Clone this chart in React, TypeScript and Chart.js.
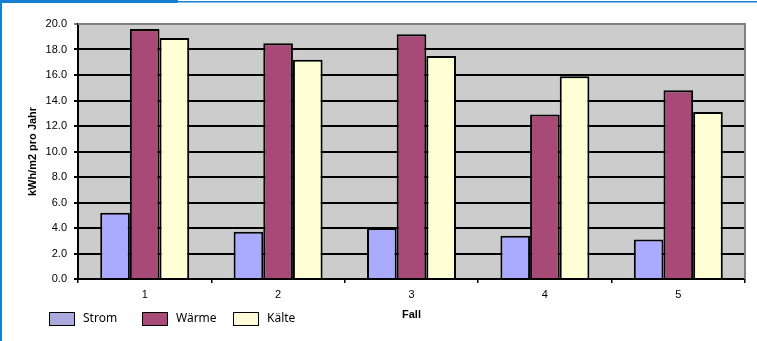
import React, { useEffect, useRef } from "react";
import { Chart, registerables } from "chart.js";

Chart.register(...registerables);

const categories = ["1", "2", "3", "4", "5"];
const strom = [5.2, 3.7, 4.0, 3.4, 3.1];
const waerme = [19.6, 18.5, 19.2, 12.9, 14.8];
const kaelte = [18.9, 17.2, 17.5, 15.9, 13.1];
const seriesNames = ["Strom", "Wärme", "Kälte"];
const seriesColors = ["#aaaaff", "#a84a78", "#ffffd6"];
const legendColors = ["#aaaadd", "#a84a78", "#fffbd8"];

const TICK_FONT = "'Liberation Sans', Arial, sans-serif";

export default function App() {
  const ref = useRef<HTMLCanvasElement | null>(null);

  useEffect(() => {
    document.body.style.margin = "0";
    const canvas = ref.current;
    if (!canvas) return;

    const framePlugin = {
      id: "frame",
      beforeDraw(chart: any) {
        const { ctx, chartArea: a } = chart;
        ctx.save();
        ctx.fillStyle = "#ffffff";
        ctx.fillRect(0, 0, chart.width, chart.height);
        ctx.fillStyle = "#cccccc";
        ctx.fillRect(a.left, a.top, a.right - a.left, a.bottom - a.top);
        ctx.restore();
      },
      afterDraw(chart: any) {
        const { ctx, chartArea: a } = chart;
        ctx.save();
        // gray top/right border of plot
        ctx.strokeStyle = "#808080";
        ctx.lineWidth = 2;
        ctx.beginPath();
        ctx.moveTo(a.left, a.top);
        ctx.lineTo(a.right, a.top);
        ctx.lineTo(a.right, a.bottom);
        ctx.stroke();
        // blue frame
        ctx.fillStyle = "#1580d2";
        ctx.fillRect(0, 0, 178, 3);
        ctx.fillRect(0, 1, chart.width, 1.5);
        ctx.fillRect(0, 0, 2, chart.height);
        // legend
        const xs = [49, 142, 233];
        const y = 312;
        ctx.font = "12px 'Noto Sans', 'Open Sans', sans-serif";
        ctx.textBaseline = "middle";
        ctx.textAlign = "left";
        chart.data.datasets.forEach((ds: any, i: number) => {
          const x = xs[i];
          ctx.fillStyle = legendColors[i];
          ctx.fillRect(x, y, 25, 13);
          ctx.strokeStyle = "#000";
          ctx.lineWidth = 1;
          ctx.strokeRect(x + 0.5, y + 0.5, 25, 13);
          ctx.fillStyle = "#000";
          ctx.fillText(ds.label, x + 34, y + 7);
        });
        ctx.restore();
      },
    };

    const mk = (i: number, data: number[]) => ({
      label: seriesNames[i],
      data,
      backgroundColor: seriesColors[i],
      borderColor: "#000000",
      borderWidth: 2,
      barPercentage: 1,
      categoryPercentage: 0.667,
    });

    const chart = new Chart(canvas, {
      type: "bar",
      data: {
        labels: categories,
        datasets: [mk(0, strom), mk(1, waerme), mk(2, kaelte)],
      },
      options: {
        responsive: false,
        animation: false,
        layout: { padding: { top: 24, right: 12, left: 0, bottom: 0 } },
        plugins: {
          legend: { display: false },
          tooltip: { enabled: false },
        },
        scales: {
          x: {
            grid: {
              drawOnChartArea: false,
              drawTicks: true,
              tickLength: 4,
              color: "#000",
              lineWidth: 1.5,
              offset: true,
            },
            border: { color: "#000", width: 2 },
            ticks: {
              color: "#000",
              font: { family: TICK_FONT, size: 11 },
              padding: 5,
            },
            title: {
              display: true,
              text: "Fall",
              color: "#000",
              font: { family: TICK_FONT, size: 11, weight: "bold" },
              padding: { top: 0, bottom: 19 },
            },
            afterFit(scale: any) {
              scale.height = 62;
            },
          },
          y: {
            min: 0,
            max: 20,
            ticks: {
              stepSize: 2,
              color: "#000",
              font: { family: TICK_FONT, size: 11 },
              padding: 7,
              callback: (v: any) => Number(v).toFixed(1),
            },
            grid: {
              color: (c: any) => (c.tick && c.tick.value === 20 ? "#808080" : "#000"),
              lineWidth: 2,
              tickLength: 4,
              drawTicks: true,
            },
            border: { color: "#000", width: 2 },
            title: {
              display: true,
              text: "kWh/m2 pro Jahr",
              color: "#000",
              font: { family: TICK_FONT, size: 11, weight: "bold" },
              padding: { top: 26, bottom: 0 },
            },
            afterFit(scale: any) {
              scale.width = 78;
            },
          },
        },
      },
      plugins: [framePlugin],
    } as any);

    return () => chart.destroy();
  }, []);

  return (
    <div style={{ position: "fixed", left: 0, top: 0, width: 757, height: 341 }}>
      <canvas ref={ref} width={757} height={341} style={{ display: "block" }} />
    </div>
  );
}
